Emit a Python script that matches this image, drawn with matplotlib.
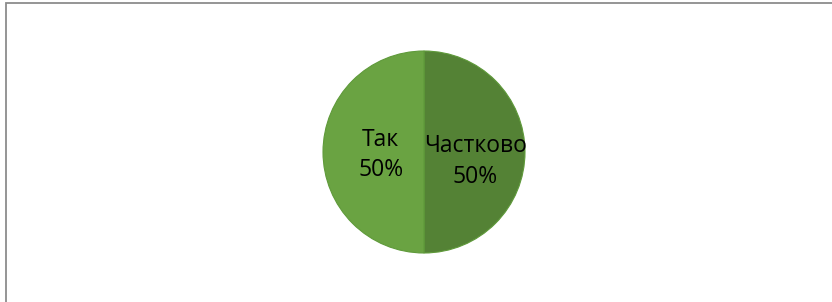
import matplotlib
matplotlib.use('Agg')
import matplotlib.pyplot as plt
from matplotlib.patches import Rectangle

labels = ['Частково', 'Так']
values = [50, 50]
colors = ['#548235', '#6aa342']

W, H = 832, 302
fig = plt.figure(figsize=(W / 100, H / 100), dpi=100)
fig.patch.set_facecolor('white')

# chart area border (only top and left visible in the crop)
fig.patches.append(Rectangle((6 / W, -0.1), 1.2, (H - 3) / H + 0.1, transform=fig.transFigure,
                             fill=False, edgecolor='#8c8c8c', linewidth=1.3))

cx, cy, r = 424, 152, 102
ax = fig.add_axes([(cx - r) / W, (H - cy - r) / H, 2 * r / W, 2 * r / H])
wedges, _ = ax.pie(values, colors=colors, startangle=90, counterclock=False,
                   radius=1, wedgeprops=dict(linewidth=0.8, edgecolor='#5f9a3a'))
ax.set_xlim(-1.01, 1.01)
ax.set_ylim(-1.01, 1.01)
ax.set_aspect('equal')
ax.axis('off')

pos = [(0.51, -0.09), (-0.43, -0.03)]
for lab, v, (x, y) in zip(labels, values, pos):
    ax.text(x, y, '%s\n%d%%' % (lab, v), ha='center', va='center', fontsize=16.5,
            family=['Open Sans', 'DejaVu Sans'], linespacing=1.38, color='black')

fig.savefig('out.png', dpi=100, facecolor='white')
